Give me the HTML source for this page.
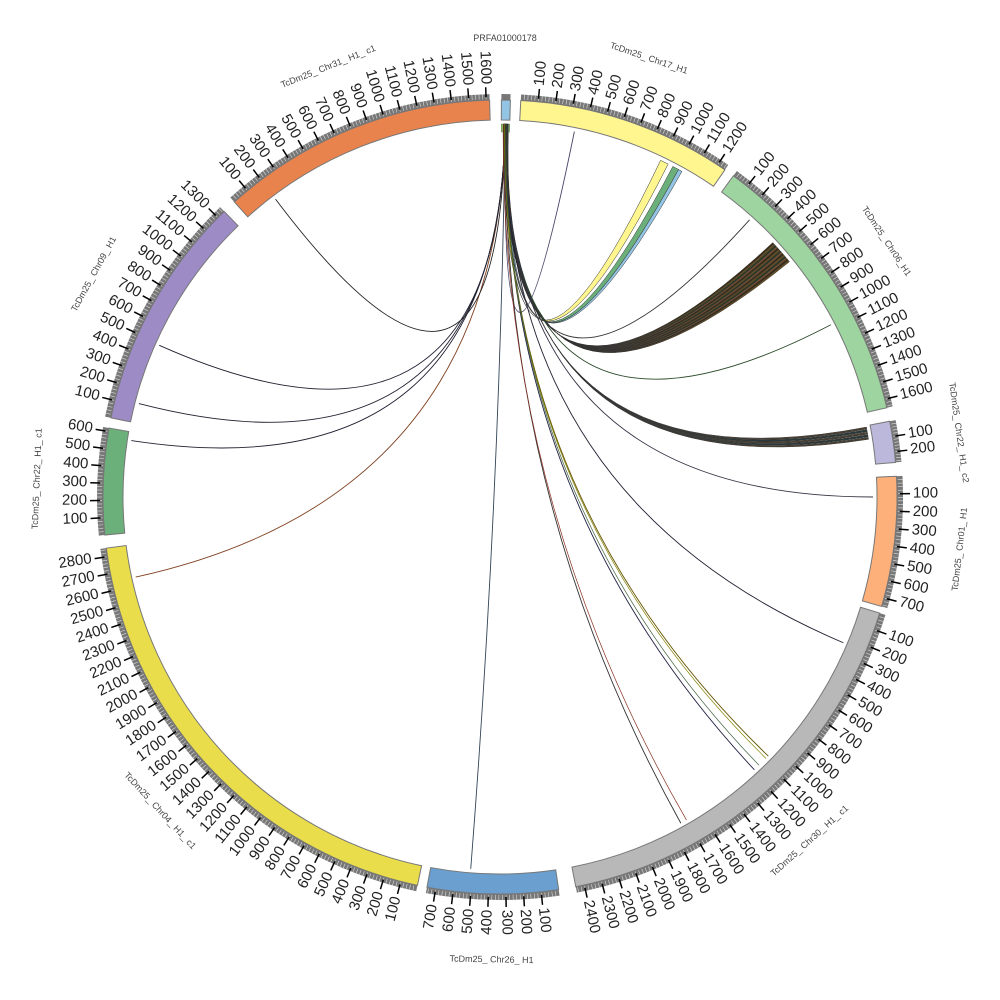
<!DOCTYPE html>
<html><head><meta charset="utf-8"><style>
html,body{margin:0;padding:0;background:#fff;width:1000px;height:1000px;overflow:hidden}
svg{display:block}
text{font-family:"Liberation Sans",sans-serif}
</style></head><body>
<svg id="s" width="1000" height="1000" viewBox="0 0 1000 1000" xmlns="http://www.w3.org/2000/svg"></svg>
<script>
var cx=500,cy=497,R0=377,R1=397;
var s=document.getElementById('s');var out='';
function P(a,r){var t=(a-90)*Math.PI/180;return [cx+r*Math.cos(t),cy+r*Math.sin(t)];}
function arcPath(a1,a2,r1,r2){var p1=P(a1,r2),p2=P(a2,r2),p3=P(a2,r1),p4=P(a1,r1);var l=(a2-a1)>180?1:0;
return 'M'+p1[0]+','+p1[1]+' A'+r2+','+r2+' 0 '+l+' 1 '+p2[0]+','+p2[1]+' L'+p3[0]+','+p3[1]+' A'+r1+','+r1+' 0 '+l+' 0 '+p4[0]+','+p4[1]+'Z';}
var segs=[
 ['PRFA01000178',0.2,1.5,0,'#93c4e3',0],
 ['TcDm25_ Chr17_H1',3,34.5,1250,'#fff68f',1],
 ['TcDm25_ Chr06_H1',36,77,1650,'#9ed49f',1],
 ['TcDm25_ Chr22_ H1_ c2',79,85,270,'#bbb8dc',1],
 ['TcDm25_ Chr01_ H1',87,106,750,'#fdb07a',1],
 ['TcDm25_ Chr30_ H1_ c1',107,169,2450,'#b8b8b8',1],
 ['TcDm25_ Chr26_ H1',171.5,190.6,750,'#6a9fcf',1],
 ['TcDm25_ Chr04_ H1_ c1',192,262.6,2850,'#e9dd4c',1],
 ['TcDm25_ Chr22_ H1_ c1',264.5,280,620,'#6bb07b',1],
 ['TcDm25_ Chr09_ H1',281.5,316,1350,'#9d8bc6',1],
 ['TcDm25_ Chr31_ H1_ c1',318,358.5,1620,'#e8834e',1]
];
var labelPos={'PRFA01000178':null};
segs.forEach(function(g){
 var a1=g[1],a2=g[2],L=g[3];
 out+='<path d="'+arcPath(a1,a2,R1,R1+6)+'" fill="#777"/>';
 out+='<path d="'+arcPath(a1,a2,R0,R1)+'" fill="'+g[4]+'" stroke="#777" stroke-width="1"/>';
 if(L){
  var per=(a2-a1)/L;
  for(var v=20;v<L;v+=20){var a=a1+v*per;var p=P(a,R1+1),q=P(a,R1+6);out+='<line x1="'+p[0]+'" y1="'+p[1]+'" x2="'+q[0]+'" y2="'+q[1]+'" stroke="#ddd" stroke-width="0.6"/>';}
  for(var v=100;v<L;v+=100){var a=a1+v*per;var p=P(a,R1+3),q=P(a,R1+13);
   out+='<line x1="'+p[0]+'" y1="'+p[1]+'" x2="'+q[0]+'" y2="'+q[1]+'" stroke="#000" stroke-width="1.5"/>';
   var t=P(a,R1+16);
   if(a<180){out+='<text x="'+t[0]+'" y="'+t[1]+'" font-size="15" fill="#222" dominant-baseline="middle" text-anchor="start" transform="rotate('+(a-90)+' '+t[0]+' '+t[1]+')">'+v+'</text>';}
   else{out+='<text x="'+t[0]+'" y="'+t[1]+'" font-size="15" fill="#222" dominant-baseline="middle" text-anchor="end" transform="rotate('+(a+90)+' '+t[0]+' '+t[1]+')">'+v+'</text>';}
  }
  var m=(a1+a2)/2;var rr=463;var t=P(m,rr);var rot=(m>90&&m<270)?m+180:m;
  out+='<text x="'+t[0]+'" y="'+t[1]+'" font-size="9" fill="#444" text-anchor="middle" dominant-baseline="middle" transform="rotate('+rot+' '+t[0]+' '+t[1]+')">'+g[0]+'</text>';
 } else {
  out+='<text x="505" y="41" font-size="9" fill="#444" text-anchor="middle">PRFA01000178</text>';
 }
});
var C=[cx,cy];
function link(as,bt,col,w){var p=P(as,373),q=P(bt,373);
 out+='<path d="M'+p[0]+','+p[1]+' Q'+C[0]+','+C[1]+' '+q[0]+','+q[1]+'" fill="none" stroke="'+col+'" stroke-width="'+w+'"/>';}
function ribbon(a1,a2,b1,b2,col){var p1=P(a1,373),p2=P(a2,373),q1=P(b1,373),q2=P(b2,373);
 out+='<path d="M'+p1[0]+','+p1[1]+' Q'+C[0]+','+C[1]+' '+q2[0]+','+q2[1]+' L'+q1[0]+','+q1[1]+' Q'+C[0]+','+C[1]+' '+p2[0]+','+p2[1]+'Z" fill="'+col+'" stroke="#333" stroke-width="0.5"/>';}
// source ribbon strip
out+='<path d="'+arcPath(0.2,1.5,365,373)+'" fill="#8fce6a" stroke="#555" stroke-width="0.4"/>';
ribbon(0.6,0.9,25.5,26.8,'#fff68f');
ribbon(0.9,1.2,27.6,28.6,'#6bb07b');
ribbon(1.0,1.3,28.6,29.2,'#93c4e3');
for(var i=0;i<14;i++){ribbon(0.5+i*0.05,0.55+i*0.05,47+i*0.28,47.25+i*0.28,['#3a2a10','#6a5020','#2a3a20','#805030'][i%4]);}
for(var i=0;i<5;i++){ribbon(0.6+i*0.05,0.64+i*0.05,79.2+i*0.4,79.5+i*0.4,i%2?'#2b3a3a':'#4a4030');}
var thin=[[11.5,'#446'],[42,'#333'],[62.5,'#2a4a2a'],[90,'#334'],[113,'#223'],[134,'#665500'],[137,'#224'],[151,'#333'],[184.5,'#345'],[257.6,'#804020'],[278.7,'#223'],[284.5,'#223'],[294,'#223'],[323,'#222']];
thin.forEach(function(t){link(0.8,t[0],t[1],0.9);});
link(0.5,150,'#8a3020',0.7);link(0.7,134.5,'#808000',0.7);link(0.9,136,'#406040',0.7);
s.innerHTML=out;
</script>
</body></html>
